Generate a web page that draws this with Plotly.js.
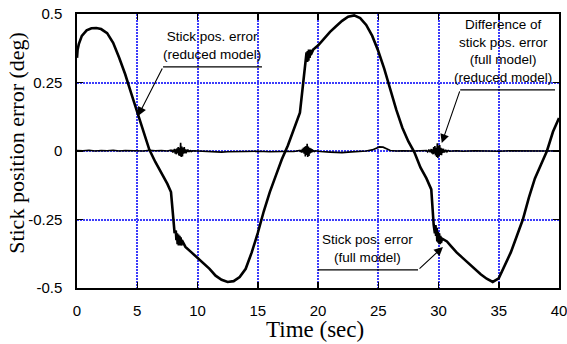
<!DOCTYPE html>
<html>
<head>
<meta charset="utf-8">
<script src="https://cdn.plot.ly/plotly-3.0.1.min.js"></script>
<style>html,body{margin:0;padding:0;background:#fff;}#chart{width:567px;height:344px;}</style>
</head>
<body>
<div id="chart"></div>
<script>
// Stick position error (full model), deg
var timeFull = [0, 0.05, 0.15, 0.4, 0.8, 1.2, 1.6, 2.0, 2.5, 3.0, 3.5, 4.0, 4.5, 5.0, 5.5, 6.0, 6.5, 7.0, 7.5, 7.8, 8.0, 8.1,
  8.2, 8.25, 8.3, 8.35, 8.4, 8.45, 8.5, 8.55, 8.6, 8.65, 8.7, 8.8, 9.0, 9.5, 10, 10.5, 11, 11.5, 12, 12.5, 13, 13.5, 14, 14.5,
  15, 15.5, 16, 16.5, 17, 17.5, 18, 18.5, 18.8, 19.0, 19.05, 19.1, 19.15, 19.2, 19.25, 19.3, 19.35, 19.4, 19.5, 19.6, 20,
  20.5, 21, 21.5, 22, 22.5, 23, 23.5, 24, 24.5, 25, 25.5, 26, 26.5, 27, 27.5, 28, 28.5, 29, 29.4, 29.6, 29.7, 29.75, 29.8,
  29.85, 29.9, 29.95, 30.0, 30.05, 30.1, 30.15, 30.2, 30.3, 30.7, 31, 31.5, 32, 32.5, 33, 33.5, 34, 34.5, 35, 35.5, 36,
  36.5, 37, 37.5, 38, 38.5, 39, 39.5, 40];
var errFull = [0.34, 0.37, 0.39, 0.42, 0.44, 0.448, 0.449, 0.445, 0.43, 0.395, 0.34, 0.28, 0.21, 0.14, 0.07, 0.005, -0.04,
  -0.08, -0.12, -0.15, -0.24, -0.30,
  -0.29, -0.325, -0.30, -0.34, -0.305, -0.345, -0.31, -0.345, -0.315, -0.345, -0.325, -0.335, -0.35, -0.37, -0.39, -0.41,
  -0.43, -0.455, -0.47, -0.478, -0.475, -0.46, -0.43, -0.37,
  -0.30, -0.22, -0.15, -0.09, -0.03, 0.02, 0.08, 0.14, 0.26, 0.33, 0.36, 0.325, 0.365, 0.33, 0.37, 0.34, 0.37, 0.35, 0.36,
  0.37, 0.385,
  0.41, 0.435, 0.455, 0.475, 0.49, 0.495, 0.485, 0.46, 0.42, 0.365, 0.30, 0.22, 0.15, 0.085, 0.035, -0.005, -0.06, -0.10,
  -0.14, -0.27, -0.30, -0.27, -0.31, -0.28, -0.33, -0.295, -0.335, -0.30, -0.34, -0.31, -0.335, -0.32, -0.33,
  -0.345, -0.37, -0.39, -0.41, -0.43, -0.45, -0.466, -0.478, -0.465, -0.42, -0.37,
  -0.31, -0.25, -0.17, -0.10, -0.05, 0.0, 0.07, 0.12];

// Difference of stick pos. error (full model) - (reduced model), deg
var timeDiff = [0, 0.5, 1, 1.5, 2, 2.5, 3, 3.5, 4, 4.5, 5, 5.5, 6, 6.5, 7, 7.5,
  7.8, 7.85, 7.9, 7.95, 8.0, 8.05, 8.1, 8.15, 8.2, 8.25, 8.3, 8.35, 8.4, 8.45, 8.5, 8.55, 8.6, 8.65, 8.7, 8.75, 8.8, 8.85,
  8.9, 8.95, 9.0, 9.05, 9.1, 9.15, 9.2, 9.25, 9.3, 9.35, 9.4, 9.5, 9.6,
  10, 10.5, 11, 11.5, 12, 12.5, 13, 13.5, 14, 15, 16, 17, 18,
  18.5, 18.55, 18.6, 18.65, 18.7, 18.75, 18.8, 18.85, 18.9, 18.95, 19.0, 19.05, 19.1, 19.15, 19.2, 19.25, 19.3, 19.35,
  19.4, 19.45, 19.5, 19.55, 19.6, 19.7, 19.8,
  20.2, 21, 21.5, 22, 22.5, 23, 23.5, 24, 24.5, 24.8, 25.1, 25.4, 25.7, 26, 26.5, 27, 28,
  29.0, 29.1, 29.2, 29.3, 29.4, 29.45, 29.5, 29.55, 29.6, 29.65, 29.7, 29.75, 29.8, 29.85, 29.9, 29.95, 30.0, 30.05, 30.1,
  30.15, 30.2, 30.25, 30.3, 30.35, 30.4, 30.5, 30.6, 30.7, 30.8, 30.9,
  31.5, 32, 33, 34, 35, 36, 37, 38, 39, 40];
var errDiff = [0.002, 0.001, 0.003, 0.0, 0.002, 0.001, 0.003, 0.0, 0.002, 0.001, 0.002, 0.0, 0.003, 0.001, 0.002, 0.0,
  0.003, -0.002, 0.004, -0.006, 0.005, -0.004, 0.008, -0.01, 0.006, -0.012, 0.01, -0.008, 0.014, -0.016, 0.012, -0.018,
  0.03, -0.022, 0.016, -0.02, 0.012, -0.01, 0.014, -0.008, 0.006, -0.009, 0.005, -0.004, 0.006, -0.003, 0.002, -0.004,
  0.003, -0.002, 0.001,
  0.0, -0.002, -0.004, -0.005, -0.004, -0.003, -0.002, -0.003, -0.002, -0.001, -0.003, -0.002, -0.002,
  0.002, -0.004, 0.003, -0.006, 0.008, -0.005, 0.012, -0.01, 0.015, -0.02, 0.018, -0.014, 0.026, -0.022, 0.016, -0.018,
  0.012, -0.009, 0.01, -0.006, 0.007, -0.004, 0.003, -0.002, 0.001,
  -0.002, -0.004, -0.005, -0.006, -0.004, -0.003, -0.002, 0.0, 0.004, 0.01, 0.015, 0.014, 0.008, 0.002, 0.0, 0.001, 0.0,
  0.002, -0.003, 0.005, -0.004, 0.007, -0.009, 0.006, -0.012, 0.014, -0.01, 0.018, -0.016, 0.012, -0.022, 0.028, -0.025,
  0.02, -0.018, 0.022, -0.014, 0.012, -0.015, 0.009, -0.007, 0.008, -0.005, 0.004, -0.003, 0.002, -0.001,
  0.001, -0.001, 0.001, 0.0, -0.001, 0.001, 0.0, -0.001, 0.0, 0.001];

var xTicks = [0, 5, 10, 15, 20, 25, 30, 35, 40];
var xTickText = ['0', '5', '10', '15', '20', '25', '30', '35', '40'];
var yTicks = [-0.5, -0.25, 0, 0.25, 0.5];
var yTickText = ['-0.5', '-0.25', '0', '0.25', '0.5'];

var xTitle = 'Time (sec)';
var yTitle = 'Stick position error (deg)';
var labelReduced = 'Stick pos. error<br>(reduced model)';
var labelFull = 'Stick pos. error<br>(full model)';
var labelDiff = 'Difference of<br>stick pos. error<br>(full model)<br>(reduced model)';

var traces = [
  {x: timeFull, y: errFull, type: 'scatter', mode: 'lines', line: {color: '#000', width: 2.6}, hoverinfo: 'skip'},
  {x: timeDiff, y: errDiff, type: 'scatter', mode: 'lines', line: {color: '#000', width: 1.6}, hoverinfo: 'skip'}
];

var gridColor = 'rgb(60,60,250)';
var axisCommon = {
  showline: true, linecolor: '#000', linewidth: 1.6, mirror: 'ticks',
  ticks: 'inside', ticklen: 6, tickwidth: 1.5, tickcolor: '#000',
  showgrid: true, gridcolor: gridColor, gridwidth: 2, griddash: '2px,1px',
  zeroline: false, fixedrange: true, ticklabeloverflow: 'allow',
  tickfont: {family: 'Liberation Sans, Arial, sans-serif', size: 15, color: '#000'}
};

var layout = {
  width: 567, height: 344,
  margin: {l: 77, r: 8, t: 14, b: 56},
  paper_bgcolor: '#fff', plot_bgcolor: '#fff',
  showlegend: false,
  xaxis: Object.assign({}, axisCommon, {range: [0, 40], tickvals: xTicks, ticktext: xTickText, ticklabelstandoff: 8}),
  yaxis: Object.assign({}, axisCommon, {range: [-0.5, 0.5], tickvals: yTicks, ticktext: yTickText, ticklabelstandoff: 10}),
  shapes: [
    {type: 'line', xref: 'x', yref: 'y', x0: 7.14, x1: 15.35, y0: 0.307, y1: 0.307, line: {color: '#000', width: 1.2}},
    {type: 'line', xref: 'x', yref: 'y', x0: 31.8, x1: 39.67, y0: 0.223, y1: 0.223, line: {color: '#000', width: 1.2}},
    {type: 'line', xref: 'x', yref: 'y', x0: 20.0, x1: 28.3, y0: -0.434, y1: -0.434, line: {color: '#000', width: 1.2}}
  ],
  annotations: [
    {xref: 'x', yref: 'y', x: 11.2, y: 0.317, text: labelReduced, showarrow: false, xanchor: 'center', yanchor: 'bottom',
     font: {family: 'Liberation Sans, Arial, sans-serif', size: 13.5, color: '#000'}},
    {xref: 'x', yref: 'y', x: 35.35, y: 0.232, text: labelDiff, showarrow: false, xanchor: 'center', yanchor: 'bottom',
     font: {family: 'Liberation Sans, Arial, sans-serif', size: 13.5, color: '#000'}},
    {xref: 'x', yref: 'y', x: 24.07, y: -0.423, text: labelFull, showarrow: false, xanchor: 'center', yanchor: 'bottom',
     font: {family: 'Liberation Sans, Arial, sans-serif', size: 13.5, color: '#000'}},
    {xref: 'x', yref: 'y', x: 5.06, y: 0.128, ax: 7.14, ay: 0.307, axref: 'x', ayref: 'y', text: '', showarrow: true,
     arrowhead: 2, arrowsize: 1.6, arrowwidth: 1.1, arrowcolor: '#000'},
    {xref: 'x', yref: 'y', x: 30.27, y: 0.029, ax: 31.8, ay: 0.223, axref: 'x', ayref: 'y', text: '', showarrow: true,
     arrowhead: 2, arrowsize: 1.6, arrowwidth: 1.1, arrowcolor: '#000'},
    {xref: 'x', yref: 'y', x: 30.37, y: -0.350, ax: 28.3, ay: -0.434, axref: 'x', ayref: 'y', text: '', showarrow: true,
     arrowhead: 2, arrowsize: 1.6, arrowwidth: 1.1, arrowcolor: '#000'},
    {xref: 'paper', yref: 'paper', x: 0.493, y: -0.15, text: xTitle, showarrow: false, xanchor: 'center', yanchor: 'middle',
     font: {family: 'Liberation Serif, Times New Roman, serif', size: 23, color: '#000'}},
    {xref: 'paper', yref: 'paper', x: -0.127, y: 0.529, text: yTitle, showarrow: false, textangle: -90,
     xanchor: 'center', yanchor: 'middle',
     font: {family: 'Liberation Serif, Times New Roman, serif', size: 22, color: '#000'}}
  ]
};

Plotly.newPlot('chart', traces, layout, {displayModeBar: false, staticPlot: true});
</script>
</body>
</html>
